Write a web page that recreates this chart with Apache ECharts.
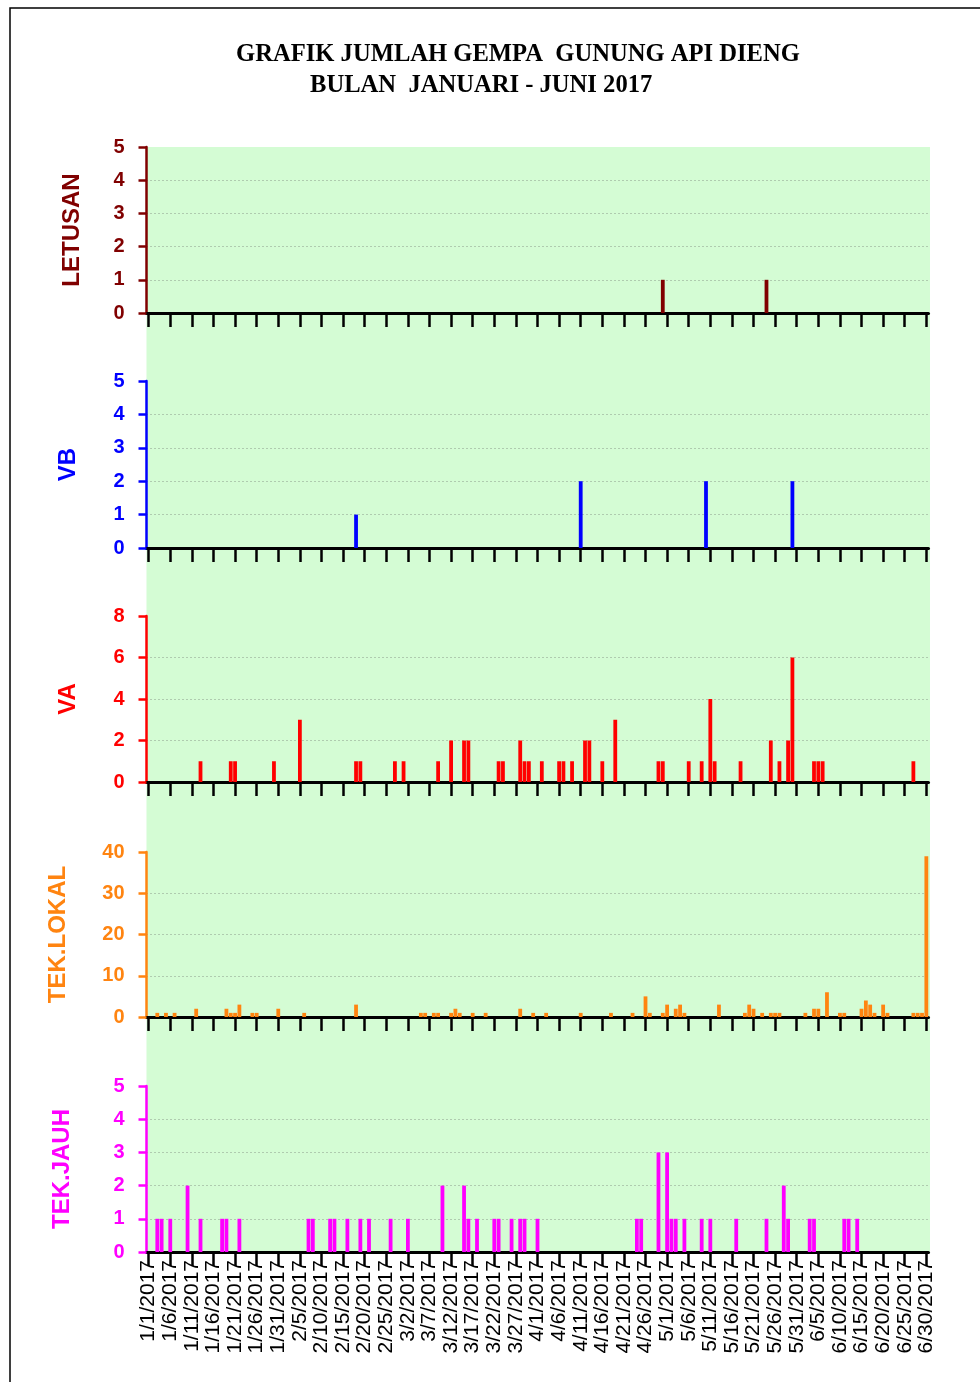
<!DOCTYPE html>
<html>
<head>
<meta charset="utf-8">
<script src="https://cdn.jsdelivr.net/npm/echarts@6/dist/echarts.min.js"></script>
<style>
  html, body { margin: 0; padding: 0; background: #fff; }
  #chart { width: 980px; height: 1382px; }
</style>
</head>
<body>
<div id="chart"></div>
<script>
// day categories 1/1/2017 .. 6/30/2017
const monthLengths = [31, 28, 31, 30, 31, 30];
const days = [];
monthLengths.forEach((n, m) => {
  for (let d = 1; d <= n; d++) days.push((m + 1) + '/' + d + '/2017');
});

// [date, count] — days not listed are 0
const letusan = [['4/30', 1], ['5/24', 1]];

const vb = [['2/18', 1], ['4/11', 2], ['5/10', 2], ['5/30', 2]];

const va = [
  ['1/13', 1], ['1/20', 1], ['1/21', 1], ['1/30', 1], ['2/5', 3], ['2/18', 1], ['2/19', 1],
  ['2/27', 1], ['3/1', 1], ['3/9', 1], ['3/12', 2], ['3/15', 2], ['3/16', 2], ['3/23', 1],
  ['3/24', 1], ['3/28', 2], ['3/29', 1], ['3/30', 1], ['4/2', 1], ['4/6', 1], ['4/7', 1],
  ['4/9', 1], ['4/12', 2], ['4/13', 2], ['4/16', 1], ['4/19', 3], ['4/29', 1], ['4/30', 1],
  ['5/6', 1], ['5/9', 1], ['5/11', 4], ['5/12', 1], ['5/18', 1], ['5/25', 2], ['5/27', 1],
  ['5/29', 2], ['5/30', 6], ['6/4', 1], ['6/5', 1], ['6/6', 1], ['6/27', 1]
];

const tekLokal = [
  ['1/3', 1], ['1/5', 1], ['1/7', 1], ['1/12', 2], ['1/19', 2], ['1/20', 1], ['1/21', 1],
  ['1/22', 3], ['1/25', 1], ['1/26', 1], ['1/31', 2], ['2/6', 1], ['2/18', 3], ['3/5', 1],
  ['3/6', 1], ['3/8', 1], ['3/9', 1], ['3/12', 1], ['3/13', 2], ['3/14', 1], ['3/17', 1],
  ['3/20', 1], ['3/28', 2], ['3/31', 1], ['4/3', 1], ['4/11', 1], ['4/18', 1], ['4/23', 1],
  ['4/26', 5], ['4/27', 1], ['4/30', 1], ['5/1', 3], ['5/3', 2], ['5/4', 3], ['5/5', 1],
  ['5/13', 3], ['5/19', 1], ['5/20', 3], ['5/21', 2], ['5/23', 1], ['5/25', 1], ['5/26', 1],
  ['5/27', 1], ['6/2', 1], ['6/4', 2], ['6/5', 2], ['6/7', 6], ['6/10', 1], ['6/11', 1],
  ['6/15', 2], ['6/16', 4], ['6/17', 3], ['6/18', 1], ['6/20', 3], ['6/21', 1], ['6/27', 1],
  ['6/28', 1], ['6/29', 1], ['6/30', 39]
];

const tekJauh = [
  ['1/3', 1], ['1/4', 1], ['1/6', 1], ['1/10', 2], ['1/13', 1], ['1/18', 1], ['1/19', 1],
  ['1/22', 1], ['2/7', 1], ['2/8', 1], ['2/12', 1], ['2/13', 1], ['2/16', 1], ['2/19', 1],
  ['2/21', 1], ['2/26', 1], ['3/2', 1], ['3/10', 2], ['3/15', 2], ['3/16', 1], ['3/18', 1],
  ['3/22', 1], ['3/23', 1], ['3/26', 1], ['3/28', 1], ['3/29', 1], ['4/1', 1], ['4/24', 1],
  ['4/25', 1], ['4/29', 3], ['5/1', 3], ['5/2', 1], ['5/3', 1], ['5/5', 1], ['5/9', 1],
  ['5/11', 1], ['5/17', 1], ['5/24', 1], ['5/28', 2], ['5/29', 1], ['6/3', 1], ['6/4', 1],
  ['6/11', 1], ['6/12', 1], ['6/14', 1]
];

const panels = [
  { name: 'LETUSAN',   data: letusan,  color: '#800000', max: 5,  step: 1,  top: 147,  gap: 62 },
  { name: 'VB',        data: vb,       color: '#0000ff', max: 5,  step: 1,  top: 381,  gap: 66 },
  { name: 'VA',        data: va,       color: '#ff0000', max: 8,  step: 2,  top: 616,  gap: 66 },
  { name: 'TEK.LOKAL', data: tekLokal, color: '#ff8410', max: 40, step: 10, top: 852,  gap: 76 },
  { name: 'TEK.JAUH',  data: tekJauh,  color: '#ff00ff', max: 5,  step: 1,  top: 1086, gap: 72 }
];
const bottoms = [313, 548, 782, 1017, 1252];

const chart = echarts.init(document.getElementById('chart'));

const option = {
  backgroundColor: '#fff',
  animation: false,
  graphic: [
    { type: 'rect', z: -100, silent: true,
      shape: { x: 146.5, y: 147, width: 783.5, height: 1105 },
      style: { fill: '#d4fcd4' } },
    { type: 'rect', z: -100, silent: true,
      shape: { x: 10, y: 8, width: 1000, height: 1400 },
      style: { fill: 'none', stroke: '#000', lineWidth: 1.5 } },
    { type: 'text', x: 518, y: 55,
      style: { text: 'GRAFIK JUMLAH GEMPA  GUNUNG API DIENG', font: 'bold 24.6px "Liberation Serif"',
        fill: '#000', textAlign: 'center', textVerticalAlign: 'middle' } },
    { type: 'text', x: 310, y: 86,
      style: { text: 'BULAN  JANUARI - JUNI 2017', font: 'bold 24.6px "Liberation Serif"',
        fill: '#000', textAlign: 'left', textVerticalAlign: 'middle' } }
  ],
  grid: panels.map((p, i) => ({
    left: 146.5, width: 782, top: p.top, height: bottoms[i] - p.top
  })),
  xAxis: panels.map((p, i) => ({
    type: 'category',
    gridIndex: i,
    data: days,
    boundaryGap: true,
    axisLine: { show: true, onZero: false, lineStyle: { color: '#000', width: 3 } },
    axisTick: { show: true, interval: 4, alignWithLabel: true, length: 14,
      lineStyle: { color: '#000', width: 2.5 } },
    axisLabel: {
      show: i === panels.length - 1,
      interval: 4, rotate: 90, margin: 8,
      fontFamily: 'Liberation Sans', fontSize: 21, color: '#000'
    },
    splitLine: { show: false }
  })),
  yAxis: panels.map((p, i) => ({
    type: 'value',
    gridIndex: i,
    min: 0, max: p.max, interval: p.step,
    name: p.name,
    nameLocation: 'middle',
    nameGap: p.gap,
    nameRotate: 90,
    nameTextStyle: { color: p.color, fontFamily: 'Liberation Sans', fontWeight: 'bold', fontSize: 24 },
    axisLine: { show: true, lineStyle: { color: p.color, width: 2.5 } },
    axisTick: { show: true, length: 8, lineStyle: { color: p.color, width: 2.5 } },
    axisLabel: { color: p.color, fontFamily: 'Liberation Sans', fontWeight: 'bold', fontSize: 20, margin: 22 },
    splitLine: { show: true, showMinLine: false, showMaxLine: false,
      lineStyle: { color: '#8a9a8a', type: [1, 3], width: 1 } }
  })),
  series: panels.map((p, i) => ({
    type: 'bar',
    xAxisIndex: i,
    yAxisIndex: i,
    barWidth: 3.8,
    itemStyle: { color: p.color },
    data: p.data.map(([d, v]) => [d + '/2017', v])
  }))
};

chart.setOption(option);
</script>
</body>
</html>
